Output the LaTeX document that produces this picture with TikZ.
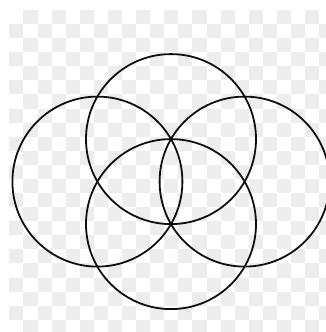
\documentclass[tikz,border=0pt]{standalone}
\usetikzlibrary{calc}
\usepackage{xcolor}
\definecolor{checkgray}{RGB}{237,237,237}
\definecolor{ringblack}{RGB}{15,15,15}

\begin{document}
\begin{tikzpicture}[x=1bp,y=-1bp]
    \useasboundingbox (0,0) rectangle (326,332);
    \clip (0,0) rectangle (326,332);
    % checker background
    \foreach \i in {0,...,22} {
        \foreach \j in {0,...,22} {
            \pgfmathtruncatemacro\cellodd{mod(\i+\j,2)}
            \ifnum\cellodd=1
                \fill[checkgray] (9.4+\i*14.08,10+\j*14.08) rectangle ++(14.08,14.08);
            \fi
        }
    }
    % four rings
    \foreach \cx/\cy in {171/139.1, 97.4/181.6, 244.6/181.6, 171/224.1} {
        \draw[line width=1.8bp,ringblack] (\cx,\cy) circle[radius=85];
    }
\end{tikzpicture}
\end{document}
